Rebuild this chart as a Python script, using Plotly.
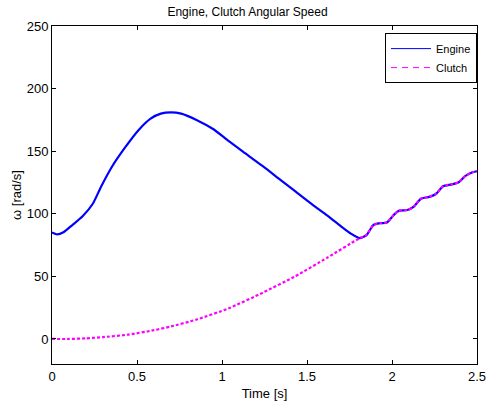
import plotly.graph_objects as go

# Time samples [s]
t_engine = [0.00, 0.03, 0.07, 0.12, 0.18, 0.24, 0.29, 0.35, 0.43, 0.51, 0.58, 0.64,
            0.70, 0.76, 0.85, 0.95, 1.04, 1.14, 1.24, 1.33, 1.43, 1.52, 1.62, 1.70,
            1.76, 1.81, 1.85, 1.89, 1.93, 1.97, 2.01, 2.04, 2.09, 2.13, 2.17, 2.22,
            2.26, 2.30, 2.35, 2.39, 2.43, 2.47, 2.50]
w_engine = [85.0, 83.5, 85.5, 91.0, 98.0, 108.0, 122.0, 137.0, 153.0, 167.0, 176.0, 180.0,
            181.0, 180.0, 175.0, 167.5, 158.0, 148.0, 138.0, 128.5, 118.0, 108.5, 98.5, 90.0,
            84.0, 80.5, 83.0, 91.0, 92.5, 93.0, 99.0, 102.5, 103.0, 106.0, 112.0, 113.5,
            116.0, 122.0, 123.5, 125.0, 130.0, 133.0, 134.0]

t_clutch = [0.00, 0.10, 0.20, 0.30, 0.45, 0.60, 0.70, 0.85, 1.04, 1.24, 1.43, 1.62,
            1.79, 1.81, 1.85, 1.89, 1.93, 1.97, 2.01, 2.04, 2.09, 2.13, 2.17, 2.22,
            2.26, 2.30, 2.35, 2.39, 2.43, 2.47, 2.50]
w_clutch = [0.0, 0.0, 0.5, 1.5, 3.5, 7.0, 10.0, 15.5, 24.5, 37.0, 50.0, 65.0,
            79.0, 80.5, 83.0, 91.0, 92.5, 93.0, 99.0, 102.5, 103.0, 106.0, 112.0, 113.5,
            116.0, 122.0, 123.5, 125.0, 130.0, 133.0, 134.0]

x_ticks = [0, 0.5, 1, 1.5, 2, 2.5]
x_tick_labels = ["0", "0.5", "1", "1.5", "2", "2.5"]
y_ticks = [0, 50, 100, 150, 200, 250]
y_tick_labels = ["0", "50", "100", "150", "200", "250"]

FONT = "Liberation Sans, Arial, sans-serif"

fig = go.Figure()
fig.add_trace(go.Scatter(x=t_engine, y=w_engine, mode="lines", name="Engine",
                         line=dict(color="#0000ff", width=2.2, shape="spline", smoothing=0.6),
                         showlegend=False))
fig.add_trace(go.Scatter(x=t_clutch, y=w_clutch, mode="lines", name="Clutch",
                         line=dict(color="#ff00ff", width=2.2, dash="3px,2px",
                                   shape="spline", smoothing=0.6),
                         showlegend=False))
# legend entries (thin lines as in the reference legend)
fig.add_trace(go.Scatter(x=[None], y=[None], mode="lines", name="Engine",
                         line=dict(color="#0000ff", width=1)))
fig.add_trace(go.Scatter(x=[None], y=[None], mode="lines", name="Clutch",
                         line=dict(color="#ff00ff", width=1, dash="6px,5px")))

axis_common = dict(showgrid=False, zeroline=False, showline=True, linecolor="black",
                   linewidth=1, mirror="allticks", ticks="inside", ticklen=4,
                   tickcolor="black", tickfont=dict(family=FONT, size=13, color="black"))

fig.update_layout(
    width=495, height=408,
    margin=dict(l=52, r=9, t=26, b=41),
    paper_bgcolor="white", plot_bgcolor="white",
    font=dict(family=FONT, size=13, color="black"),
    title=dict(text="Engine, Clutch Angular Speed", x=0.5, xanchor="center",
               y=0.971, yanchor="middle", font=dict(family=FONT, size=12, color="black")),
    xaxis=dict(range=[0, 2.5], tickvals=x_ticks, ticktext=x_tick_labels,
               title=dict(text="Time [s]", standoff=6, font=dict(family=FONT, size=13)),
               **axis_common),
    yaxis=dict(range=[-20, 250], tickvals=y_ticks, ticktext=y_tick_labels,
               title=dict(text="ω [rad/s]", standoff=2, font=dict(family=FONT, size=13)),
               **axis_common),
    legend=dict(x=1.0, xanchor="right", y=0.979, yanchor="top",
                bgcolor="white", bordercolor="black", borderwidth=1,
                font=dict(family=FONT, size=11, color="black"),
                tracegroupgap=0, itemwidth=40),
)

# remove the default 8px page margin so the figure fills the window exactly
fig.write_html("out.html", config={"displayModeBar": False},
               post_script="document.body.style.margin='0';document.body.style.overflow='hidden';")
